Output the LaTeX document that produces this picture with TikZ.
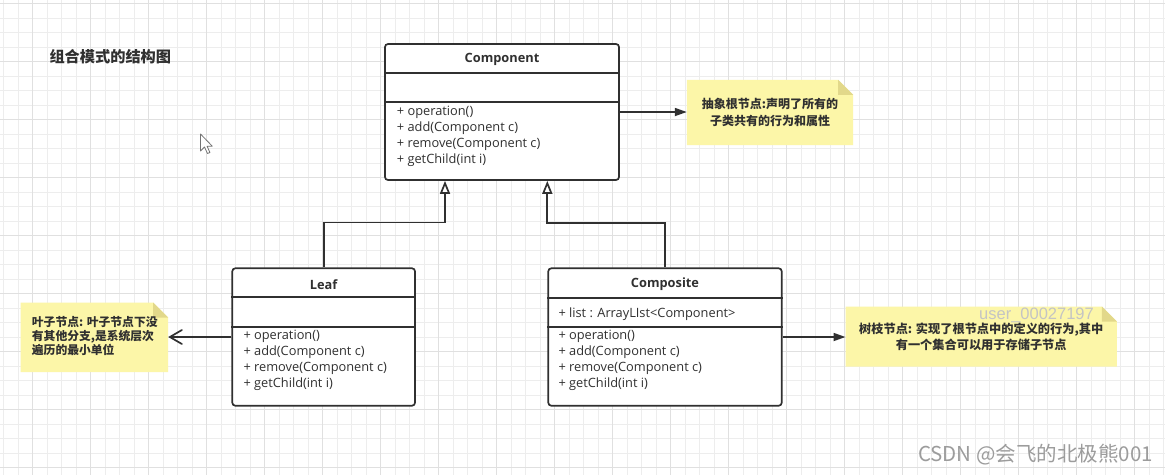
\documentclass[tikz,border=0pt]{standalone}
\usepackage{fontspec}
\setmainfont{Noto Sans CJK SC}
\newfontfamily\uml{Open Sans}
\newfontfamily\lsans{Liberation Sans}
\usetikzlibrary{arrows.meta,calc}
\pgfdeclarelayer{gridlayer}
\pgfdeclarelayer{notelayer}
\pgfsetlayers{gridlayer,notelayer,main}
\definecolor{ink}{HTML}{303030}
\definecolor{gridminor}{HTML}{EDEDED}
\definecolor{gridmajor}{HTML}{E0E0E0}
\definecolor{notey}{HTML}{FCF6A8}
\definecolor{notefold}{HTML}{E2D88A}
\definecolor{wmgray}{HTML}{9C9C9C}
\definecolor{wmlight}{HTML}{C4C4C4}
\tikzset{
  classbox/.style={draw=ink, line width=1.7pt, rounded corners=3pt, inner sep=0pt, fill=white},
  divider/.style={draw=ink, line width=1.7pt},
  classname/.style={font=\uml\bfseries\fontsize{12.8}{15}\selectfont, text=ink, inner sep=0pt},
  members/.style={font=\uml\fontsize{12.8}{15.9}\selectfont, text=ink, align=left, anchor=west, inner sep=0pt},
  notebox/.style={inner sep=0pt, align=center, text=ink, font=\bfseries\fontsize{12}{16.5}\selectfont},
  notetext/.style={inner sep=0pt, align=left, anchor=west, text=ink, font=\bfseries\fontsize{11.8}{14}\selectfont},
  assoc/.style={draw=ink, line width=1.7pt, -{Triangle[length=12pt,width=8pt]}},
  leafarrow/.style={draw=ink, line width=1.7pt, line join=round, -{Straight Barb[length=12pt,width=14pt,line cap=round]}},
  inh/.style={draw=ink, line width=1.7pt, -{Triangle[open,length=13pt,width=10pt,fill=white]}},
  minorline/.style={draw=gridminor, line width=0.8pt},
  majorline/.style={draw=gridmajor, line width=1.1pt},
}
\newcommand{\notebg}[1]{%
  \fill[notey] (#1.north west) -- ([xshift=-15pt]#1.north east) -- ([yshift=-15pt]#1.north east) -- (#1.south east) -- (#1.south west) -- cycle;
  \fill[notefold] ([xshift=-15pt]#1.north east) -- ([yshift=-15pt]#1.north east) -- ([xshift=-15pt,yshift=-15pt]#1.north east) -- cycle;
}
\begin{document}
\begin{tikzpicture}[x=1pt,y=-1pt]
\useasboundingbox (0,0) rectangle (1165,475);
\begin{pgfonlayer}{gridlayer}
  \fill[white] (0,0) rectangle (1165,475);
  \foreach \i in {0,...,80} {\draw[minorline] ({3.7+14.5*\i},0) -- ({3.7+14.5*\i},475);}
  \foreach \i in {0,...,32} {\draw[minorline] (0,{3.7+14.5*\i}) -- (1165,{3.7+14.5*\i});}
  \foreach \i in {0,...,19} {\draw[majorline] ({32.7+58*\i},0) -- ({32.7+58*\i},475);}
  \foreach \i in {0,...,8} {\draw[majorline] (0,{3.7+58*\i}) -- (1165,{3.7+58*\i});}
\end{pgfonlayer}

% title
\node[anchor=west, inner sep=0pt, text=ink, font=\bfseries\fontsize{15.2}{18}\selectfont] (title) at (49.3,56.7) {组合模式的结构图};

% mouse cursor
\draw[fill=white, draw=black!55, line width=0.8pt, line join=round] (200.5,134) -- ++(0,17) -- ++(4,-4) -- ++(3,6.5) -- ++(2.4,-1) -- ++(-2.8,-6.3) -- ++(5.2,0) -- cycle;

% Component
\node[classbox, minimum width=234pt, minimum height=136pt] (comp) at (502,112) {};
\node[classname] (compN) at (502,59.5) {Component};
\draw[divider] (comp.west |- 0,73.3) -- (comp.east |- 0,73.3);
\draw[divider] (comp.west |- 0,102.3) -- (comp.east |- 0,102.3);
\node[members] (compM) at (396.7,136.6) {+ operation()\\+ add(Component c)\\+ remove(Component c)\\+ getChild(int i)};

% Leaf
\node[classbox, minimum width=182.7pt, minimum height=137.4pt] (leaf) at (323.65,337) {};
\node[classname] (leafN) at (323.65,284.5) {Leaf};
\draw[divider] (leaf.west |- 0,297.3) -- (leaf.east |- 0,297.3);
\draw[divider] (leaf.west |- 0,326.7) -- (leaf.east |- 0,326.7);
\node[members] (leafM) at (243.3,360.3) {+ operation()\\+ add(Component c)\\+ remove(Component c)\\+ getChild(int i)};

% Composite
\node[classbox, minimum width=233.4pt, minimum height=137.4pt] (compo) at (665,337) {};
\node[classname] (compoN) at (665,284.5) {Composite};
\draw[divider] (compo.west |- 0,297.7) -- (compo.east |- 0,297.7);
\draw[divider] (compo.west |- 0,326.7) -- (compo.east |- 0,326.7);
\node[members] (compoA) at (558.3,314.3) {+ list : ArrayLIst<Component>};
\node[members] (compoM) at (558.3,360.3) {+ operation()\\+ add(Component c)\\+ remove(Component c)\\+ getChild(int i)};

% notes
\node[notebox, minimum width=166pt, minimum height=65pt] (n1) at (770,112.5) {抽象根节点:声明了所有的\\子类共有的行为和属性};
\node[notebox, minimum width=147.3pt, minimum height=69pt] (nL) at (94.35,337.3) {};
\node[notetext] (nLt) at (31.7,336) {叶子节点: 叶子节点下没\\有其他分支,是系统层次\\遍历的最小单位};
\node[notebox, minimum width=271pt, minimum height=59.5pt, font=\bfseries\fontsize{12.2}{15.7}\selectfont] (n3) at (981.2,336.6) {树枝节点: 实现了根节点中的定义的行为,其中\\有一个集合可以用于存储子节点};
\begin{pgfonlayer}{notelayer}
  \notebg{n1}
  \notebg{nL}
  \notebg{n3}
\end{pgfonlayer}

% connectors
\draw[assoc] (comp.east) -- (comp.east -| n1.west);
\draw[leafarrow] (leaf.west) -- (leaf.west -| nL.east);
\draw[assoc] (compo.east) -- (compo.east -| n3.west);
\coordinate (t1) at ($(comp.south)+(-57,0)$);
\coordinate (t2) at ($(comp.south)+(45.3,0)$);
\draw[inh] (leaf.north) -- ++(0,-45) -| (t1);
\draw[inh] (compo.north) -- ++(0,-44.3) -| (t2);

% watermarks
\node[inner sep=0pt, text=wmlight, font=\lsans\fontsize{16.5}{18}\selectfont] (wm1) at (1036.5,315.5) {user\_00027197};
\node[inner sep=0pt, text=wmgray, font=\fontsize{20.5}{24}\selectfont] (wm2) at (1035.5,455) {CSDN @会飞的北极熊001};
\end{tikzpicture}
\end{document}
